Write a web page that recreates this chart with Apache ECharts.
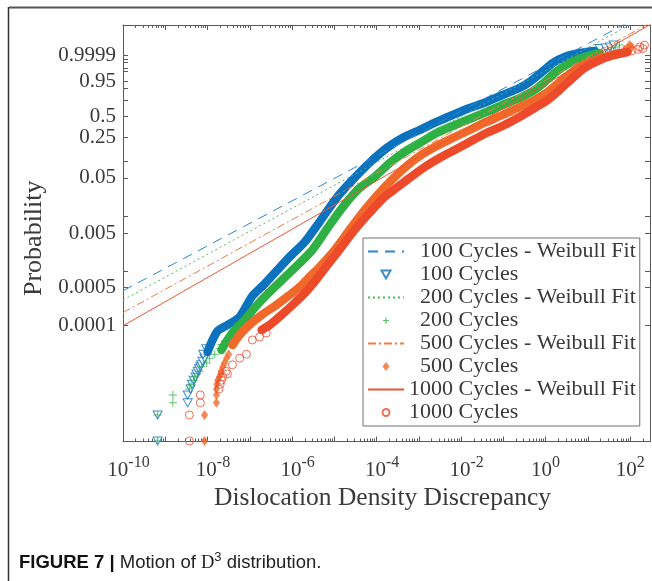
<!DOCTYPE html>
<html>
<head>
<meta charset="utf-8">
<title>Motion of D3 distribution</title>
<script src="https://cdn.jsdelivr.net/npm/echarts@6.0.0/dist/echarts.min.js"></script>
<style>
  html, body { margin: 0; padding: 0; background: #ffffff; }
  #chart { width: 652px; height: 581px; }
</style>
</head>
<body>
<div id="chart"></div>
<script>
// Weibull probability plot of the dislocation density discrepancy after 100, 200, 500 and 1000 cycles.

const SERIF = "'Liberation Serif', 'Times New Roman', serif";
const SANS = "'Liberation Sans', Arial, Helvetica, sans-serif";
const TEXT = '#3a3a3a';
const AXIS = '#5a5a5a';

// Probability ticks on the Weibull axis and the subset that carries labels
const probTicks = [0.0001, 0.0005, 0.001, 0.005, 0.01, 0.05, 0.1, 0.25, 0.5, 0.75, 0.9, 0.95, 0.99, 0.995, 0.999, 0.9995, 0.9999];
const probLabels = [0.0001, 0.0005, 0.005, 0.05, 0.25, 0.5, 0.95, 0.9999];
const probLabelText = ['0.0001', '0.0005', '0.005', '0.05', '0.25', '0.5', '0.95', '0.9999'];

// Decade exponents of the logarithmic x axis; every second one is labelled
const xDecadeExps = [-10, -9, -8, -7, -6, -5, -4, -3, -2, -1, 0, 1, 2];
const xLabelExps = [-10, -8, -6, -4, -2, 0, 2];

const seriesNames = ['100 Cycles', '200 Cycles', '500 Cycles', '1000 Cycles'];
const fitNames = ['100 Cycles - Weibull Fit', '200 Cycles - Weibull Fit', '500 Cycles - Weibull Fit', '1000 Cycles - Weibull Fit'];

// Weibull fit parameters per cycle count
const fitShape = [0.412, 0.421, 0.426, 0.443];
const fitScale = [0.0142, 0.0243, 0.0665, 0.108];

// Dense part of each sample: log10 of the discrepancy and cumulative probability
const band100X = [-8.00, -7.88, -7.76, -7.53, -7.24, -6.94, -6.65, -6.41, -6.06, -5.70, -5.35, -4.95, -4.57, -4.17, -3.76, -3.39, -2.98, -2.58, -2.20, -1.80, -1.40, -1.02, -0.62, -0.38, -0.14, 0.17, 0.45, 0.81, 1.16];
const band100P = [3.30e-5, 5.48e-5, 8.01e-5, 1.03e-4, 1.45e-4, 3.51e-4, 5.83e-4, 9.27e-4, 1.82e-3, 3.43e-3, 0.00797, 0.02176, 0.04598, 0.0920, 0.1663, 0.2423, 0.3223, 0.4205, 0.5194, 0.6266, 0.7188, 0.8184, 0.8990, 0.9478, 0.9841, 0.99862, 0.999795, 0.999957, 0.9999822];

const band200X = [-7.67, -7.53, -7.36, -7.12, -6.89, -6.65, -6.41, -5.99, -5.52, -5.11, -4.76, -4.40, -4.05, -3.69, -3.34, -2.98, -2.58, -2.20, -1.80, -1.40, -1.02, -0.62, -0.26, -0.02, 0.21, 0.57, 0.92, 1.28];
const band200P = [3.59e-5, 5.48e-5, 8.35e-5, 1.27e-4, 2.12e-4, 3.37e-4, 5.14e-4, 1.05e-3, 2.45e-3, 0.00701, 0.01626, 0.03305, 0.05205, 0.0920, 0.1425, 0.2012, 0.2902, 0.3692, 0.4614, 0.5648, 0.6732, 0.7774, 0.8784, 0.9478, 0.98668, 0.99862, 0.999795, 0.999957];

const band500X = [-7.41, -7.24, -7.01, -6.72, -6.37, -6.06, -5.82, -5.59, -5.35, -4.99, -4.64, -4.28, -3.98, -3.69, -3.34, -2.98, -2.58, -2.20, -1.80, -1.40, -1.02, -0.62, -0.26, 0.05, 0.33, 0.69, 1.04, 1.40, 1.75];
const band500P = [4.43e-5, 6.77e-5, 1.03e-4, 1.57e-4, 2.40e-4, 3.66e-4, 5.14e-4, 7.83e-4, 1.19e-3, 2.45e-3, 5.70e-3, 0.01318, 0.02468, 0.04236, 0.07518, 0.1217, 0.1795, 0.2423, 0.3223, 0.4205, 0.5194, 0.6421, 0.7487, 0.8558, 0.9478, 0.99258, 0.998963, 0.999795, 0.999957];

const band1000X = [-6.72, -6.53, -6.25, -5.94, -5.70, -5.47, -5.16, -4.88, -4.52, -4.17, -3.81, -3.50, -3.22, -2.86, -2.51, -2.15, -1.80, -1.40, -1.02, -0.62, -0.26, 0.05, 0.33, 0.64, 0.92, 1.28, 1.63, 1.94];
const band1000P = [8.35e-5, 1.03e-4, 1.57e-4, 2.61e-4, 3.98e-4, 6.35e-4, 1.30e-3, 2.45e-3, 5.70e-3, 0.01162, 0.02271, 0.03444, 0.04997, 0.07828, 0.1124, 0.1539, 0.2089, 0.2902, 0.3692, 0.4901, 0.6266, 0.7487, 0.8784, 0.9697, 0.99517, 0.999435, 0.999902, 0.999972];

// Sparse ends of each sample, where single markers are visible
const tail100X = [-9.18, -9.18, -8.47, -8.47, -8.40, -8.37, -8.33, -8.28, -8.26, -8.23, -8.20, -8.17, -8.15, -8.12, -8.07, -8.10, -8.03, 1.28, 1.42, 1.52, 1.61];
const tail100P = [7.7e-7, 2.31e-6, 3.85e-6, 5.38e-6, 6.92e-6, 8.46e-6, 1.0e-5, 1.15e-5, 1.31e-5, 1.46e-5, 1.62e-5, 1.77e-5, 1.92e-5, 2.23e-5, 2.54e-5, 3.0e-5, 3.77e-5, 0.9999946, 0.9999962, 0.9999977, 0.9999992];

const tail200X = [-9.18, -9.18, -8.82, -8.82, -8.43, -8.39, -8.33, -8.31, -8.24, -8.19, -8.14, -8.02, -7.95, -7.83, -7.72, -7.67, 1.47, 1.56, 1.66, 1.75];
const tail200P = [7.7e-7, 2.31e-6, 3.85e-6, 5.38e-6, 6.92e-6, 8.46e-6, 1.0e-5, 1.15e-5, 1.31e-5, 1.46e-5, 1.77e-5, 2.08e-5, 2.54e-5, 3.0e-5, 3.77e-5, 4.54e-5, 0.9999915, 0.9999962, 0.9999977, 0.9999992];

const tail500X = [-8.07, -8.07, -7.79, -7.79, -7.79, -7.78, -7.76, -7.72, -7.69, -7.68, -7.64, -7.60, -7.55, -7.50, 1.87, 1.94, 2.04, 1.99];
const tail500P = [7.7e-7, 2.31e-6, 3.85e-6, 5.38e-6, 6.92e-6, 8.46e-6, 1.0e-5, 1.15e-5, 1.31e-5, 1.46e-5, 1.77e-5, 2.08e-5, 2.54e-5, 3.0e-5, 0.9999915, 0.9999962, 0.9999977, 0.9999992];

const tail1000X = [-8.43, -8.43, -8.17, -8.17, -7.73, -7.70, -7.67, -7.64, -7.53, -7.56, -7.41, -7.24, -7.08, -6.94, -6.77, -6.61, 2.04, 2.18, 2.30, 2.23, 2.34];
const tail1000P = [7.7e-7, 2.31e-6, 3.85e-6, 5.38e-6, 6.92e-6, 8.46e-6, 1.0e-5, 1.15e-5, 1.31e-5, 1.46e-5, 1.92e-5, 2.54e-5, 3.0e-5, 5.48e-5, 6.2e-5, 7.36e-5, 0.9999838, 0.9999915, 0.9999946, 0.9999977, 0.9999992];

const seriesColors = ['#0b72bd', '#2fb045', '#f0692a', '#ec4a2b'];
const fitColors = ['#2a86cf', '#45bd58', '#f27b3e', '#ee5533'];
const fitDash = [[10, 7], [2, 3], [8, 3, 2, 3], 'solid'];

const bandX = [band100X, band200X, band500X, band1000X];
const bandP = [band100P, band200P, band500P, band1000P];
const tailX = [tail100X, tail200X, tail500X, tail1000X];
const tailP = [tail100P, tail200P, tail500P, tail1000P];

// Axis extent: x in data units, y in Weibull units ln(-ln(1-p))
const xMin = 1e-10;
const xMax = Math.pow(10, 2.47);
const wMin = -14.1;
const wMax = 3.49;

const toW = p => Math.log(-Math.log(1 - p));
const pairs = (xs, ps) => xs.map((e, i) => [Math.pow(10, e), toW(ps[i])]);

const decadeTicks = xDecadeExps.map(e => Math.pow(10, e));
const minorTicks = [];
xDecadeExps.forEach(e => {
  for (let k = 2; k <= 9; k++) {
    const v = k * Math.pow(10, e);
    if (v < xMax) minorTicks.push(v);
  }
});

// Marker shapes; legend icons carry two bare move-to points so the 36x9 icon box is not stretched
const plusPath = 'path://M4.4,0H5.6V4.4H10V5.6H5.6V10H4.4V5.6H0V4.4H4.4Z';
const legendIcons = [
  'path://M0,0M36,9M13.5,0.5L22.5,0.5L18,8.5Z',
  'path://M0,0M36,9M17.4,1.5H18.6V3.9H21V5.1H18.6V7.5H17.4V5.1H15V3.9H17.4Z',
  'path://M0,0M36,9M18,0L21.5,4.5L18,9L14.5,4.5Z',
  'path://M0,0M36,9M21.5,4.5A3.5,3.5,0,1,1,14.5,4.5A3.5,3.5,0,1,1,21.5,4.5Z'
];
const markerStyle = [
  { symbol: 'triangle', symbolRotate: 180, symbolSize: [9, 8], itemStyle: { color: '#ffffff', borderColor: seriesColors[0], borderWidth: 1 } },
  { symbol: plusPath, symbolRotate: 0, symbolSize: 8, itemStyle: { color: seriesColors[1] } },
  { symbol: 'diamond', symbolRotate: 0, symbolSize: [7, 10], itemStyle: { color: seriesColors[2] } },
  { symbol: 'circle', symbolRotate: 0, symbolSize: 8, itemStyle: { color: 'rgba(255,255,255,0)', borderColor: seriesColors[3], borderWidth: 1 } }
];

const series = [];
for (let i = 0; i < 4; i++) {
  series.push({
    name: seriesNames[i] + ' samples',
    type: 'line',
    data: pairs(bandX[i], bandP[i]),
    showSymbol: false,
    symbol: 'none',
    smooth: 0.25,
    silent: true,
    legendHoverLink: false,
    lineStyle: { color: seriesColors[i], width: 8.5, cap: 'round', join: 'round' }
  });
  series.push({
    name: seriesNames[i],
    type: 'scatter',
    data: pairs(tailX[i], tailP[i]),
    clip: false,
    symbol: markerStyle[i].symbol,
    symbolRotate: markerStyle[i].symbolRotate,
    symbolSize: markerStyle[i].symbolSize,
    itemStyle: markerStyle[i].itemStyle,
    silent: true
  });
}
for (let i = 0; i < 4; i++) {
  const k = fitShape[i], lam = fitScale[i];
  series.push({
    name: fitNames[i],
    type: 'line',
    data: [xMin, xMax].map(x => [x, k * (Math.log(x) - Math.log(lam))]),
    symbol: 'none',
    showSymbol: false,
    silent: true,
    lineStyle: { color: fitColors[i], width: 1, type: fitDash[i] }
  });
}

function xAxisDef(position, withLabels, tickValues, tickLen, withLine) {
  return {
    type: 'log',
    logBase: 10,
    min: xMin,
    max: xMax,
    position: position,
    axisLine: { show: withLine, onZero: false, lineStyle: { color: AXIS, width: 1 } },
    axisTick: { show: true, inside: true, length: tickLen, customValues: tickValues, lineStyle: { color: AXIS, width: 1 } },
    axisLabel: withLabels ? {
      show: true,
      customValues: xLabelExps.map(e => Math.pow(10, e)),
      margin: 13,
      formatter: v => {
        const e = Math.round(Math.log10(v));
        return (e < 0 ? '{n|10}' : '{b|10}') + '{s|' + e + '}';
      },
      rich: {
        b: { fontFamily: SERIF, fontSize: 21, color: TEXT },
        n: { fontFamily: SERIF, fontSize: 21, color: TEXT, padding: [0, 0, 0, 11] },
        s: { fontFamily: SERIF, fontSize: 16, color: TEXT, padding: [0, 0, 15, 0] }
      }
    } : { show: false },
    splitLine: { show: false },
    minorTick: { show: false },
    minorSplitLine: { show: false },
    name: withLabels ? 'Dislocation Density Discrepancy' : '',
    nameLocation: 'middle',
    nameGap: 42,
    nameTextStyle: { fontFamily: SERIF, fontSize: 25.5, color: TEXT, padding: [0, 8, 0, 0] }
  };
}

function yAxisDef(position, withLabels) {
  return {
    type: 'value',
    min: wMin,
    max: wMax,
    position: position,
    axisLine: { show: true, onZero: false, lineStyle: { color: AXIS, width: 1 } },
    axisTick: { show: true, inside: true, length: 5, customValues: probTicks.map(toW), lineStyle: { color: AXIS, width: 1 } },
    axisLabel: withLabels ? {
      show: true,
      customValues: probLabels.map(toW),
      margin: 7,
      fontFamily: SERIF,
      fontSize: 21,
      color: TEXT,
      formatter: v => {
        let best = 0;
        probLabels.forEach((p, j) => { if (Math.abs(toW(p) - v) < Math.abs(toW(probLabels[best]) - v)) best = j; });
        return probLabelText[best];
      }
    } : { show: false },
    splitLine: { show: false },
    name: withLabels ? 'Probability' : '',
    nameLocation: 'middle',
    nameGap: 63,
    nameRotate: 90,
    nameTextStyle: { fontFamily: SERIF, fontSize: 26, color: TEXT, padding: [0, 10, 0, 0] }
  };
}

const legendOrder = [];
for (let i = 0; i < 4; i++) {
  legendOrder.push({ name: fitNames[i], itemStyle: { opacity: 0 } });
  legendOrder.push({ name: seriesNames[i], icon: legendIcons[i] });
}

const option = {
  backgroundColor: '#ffffff',
  animation: false,
  grid: { left: 123, top: 25, width: 527, height: 416.5, containLabel: false, outerBoundsMode: 'none' },
  xAxis: [
    xAxisDef('bottom', true, decadeTicks, 5, true),
    xAxisDef('bottom', false, minorTicks, 3, false),
    xAxisDef('top', false, decadeTicks, 5, true),
    xAxisDef('top', false, minorTicks, 3, false)
  ],
  yAxis: [yAxisDef('left', true), yAxisDef('right', false)],
  legend: {
    orient: 'vertical',
    left: 363,
    top: 238,
    data: legendOrder,
    itemWidth: 36,
    itemHeight: 9,
    itemGap: 0,
    padding: [2, 4, 2, 4],
    borderColor: '#707070',
    borderWidth: 1,
    backgroundColor: '#ffffff',
    selectedMode: false,
    textStyle: { fontFamily: SERIF, fontSize: 22, color: TEXT, lineHeight: 23 },
    formatter: name => (name.indexOf('1000') === 0 ? name : '  ' + name)
  },
  series: series,
  graphic: [
    { type: 'line', silent: true, shape: { x1: 9, y1: 7.5, x2: 652, y2: 7.5 }, style: { stroke: '#555555', lineWidth: 2 } },
    { type: 'line', silent: true, shape: { x1: 8.5, y1: 7, x2: 8.5, y2: 581 }, style: { stroke: '#333333', lineWidth: 1.5 } },
    {
      type: 'text', silent: true, left: 19, top: 551,
      style: {
        text: '{b|FIGURE 7 |} Motion of {d|D}{s|3} distribution.',
        fontFamily: SANS, fontSize: 18.5, fill: '#222222',
        rich: {
          b: { fontFamily: SANS, fontSize: 18.5, fontWeight: 'bold', fill: '#111111' },
          d: { fontFamily: SERIF, fontSize: 18.5, fill: '#222222' },
          s: { fontFamily: SANS, fontSize: 13, fill: '#222222', padding: [0, 0, 11, 0] }
        }
      }
    }
  ]
};

const chart = echarts.init(document.getElementById('chart'), null, { renderer: 'canvas' });
chart.setOption(option);
</script>
</body>
</html>
